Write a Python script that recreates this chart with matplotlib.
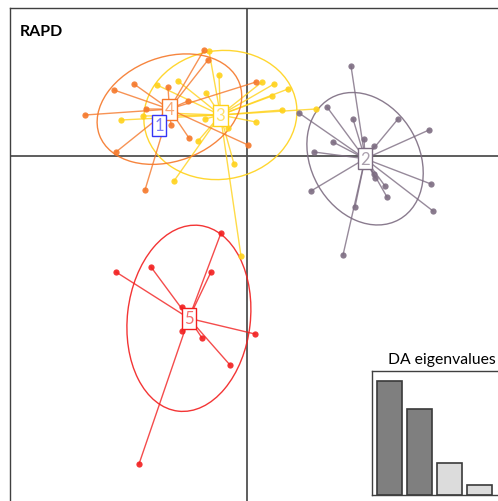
import numpy as np
import matplotlib
matplotlib.use("Agg")
import matplotlib.pyplot as plt
from matplotlib.patches import Ellipse

# discriminant function scores (LD1, LD2) per population
grp1_x = [-1.76]
grp1_y = [0.62]

grp2_x = [2.08, 1.60, 1.04, 2.12, 3.02, 3.64, 2.34, 1.72, 2.54, 1.34,
          2.56, 2.76, 2.80, 3.68, 3.72, 1.28, 2.16, 1.92, 2.54]
grp2_y = [1.80, 0.98, 0.86, 0.74, 0.74, 0.52, 0.34, 0.28, 0.20, 0.08,
          -0.44, -0.60, -0.82, -0.56, -1.10, -0.70, -1.02, -1.98, -0.36]

grp3_x = [-0.76, -0.56, -1.38, -1.80, -0.82, 0.30, 0.54, 0.82, 0.50, 0.70,
          0.18, -2.08, -2.52, -0.84, -0.98, -0.38, -0.26, -1.46, -0.12, 1.38, -1.64]
grp3_y = [2.10, 1.62, 1.50, 1.42, 1.26, 1.48, 1.44, 1.34, 1.20, 0.92,
          0.68, 0.80, 0.72, 0.74, 0.30, 0.56, -0.16, -0.50, -2.00, 0.94, 0.86]

grp4_x = [-0.86, -0.78, -2.66, -2.26, -1.58, -1.18, -2.02, -3.24, -1.52, -1.16,
          -2.62, -2.04, 0.02, 0.18]
grp4_y = [2.12, 1.92, 1.32, 1.44, 1.38, 1.10, 0.94, 0.82, 0.62, 0.36,
          0.08, -0.68, 0.22, 1.48]

grp5_x = [-0.52, -2.62, -1.92, -0.72, -1.30, -1.30, -0.90, 0.16, -0.34, -2.16]
grp5_y = [-1.54, -2.32, -2.22, -2.32, -3.02, -3.50, -3.64, -3.56, -4.18, -6.16]

groups = ["1", "2", "3", "4", "5"]
grp_colors = ["#3535F5", "#7D6D82", "#FFD21A", "#F5782A", "#F21F1F"]

eig_vals = [11.4, 8.6, 3.2, 1.0]
eig_colors = ["#7F7F7F", "#7F7F7F", "#DCDCDC", "#DCDCDC"]

plt.rcParams["font.family"] = ["Lato", "DejaVu Sans"]

fig = plt.figure(figsize=(4.98, 5.02), dpi=100)
ax = fig.add_axes([10 / 498, -10 / 502, 500 / 498, 503 / 502])
ax.set_xlim(-4.74, 5.26)
ax.set_ylim(-7.10, 2.96)
ax.set_xticks([])
ax.set_yticks([])
for sp in ax.spines.values():
    sp.set_color("#404040")
    sp.set_linewidth(1.0)

ax.axhline(0, color="#505050", lw=1.3, zorder=1)
ax.axvline(0, color="#505050", lw=1.3, zorder=1)

data = [(grp1_x, grp1_y), (grp2_x, grp2_y), (grp3_x, grp3_y),
        (grp4_x, grp4_y), (grp5_x, grp5_y)]

# draw groups so that group 1 ends on top
order = [1, 4, 2, 3, 0]
for i in order:
    xs, ys = np.array(data[i][0]), np.array(data[i][1])
    col = grp_colors[i]
    cx, cy = xs.mean(), ys.mean()
    # stars from centroid
    for x, y in zip(xs, ys):
        ax.plot([cx, x], [cy, y], color=col, lw=1.0, alpha=0.8, zorder=2)
    ax.plot(xs, ys, "o", color=col, ms=4.5, mec="none", alpha=0.9, zorder=3)
    # 1.5 sd inertia ellipse
    if len(xs) > 2:
        cov = np.cov(np.vstack([xs, ys]), bias=True)
        vals, vecs = np.linalg.eigh(cov)
        angle = np.degrees(np.arctan2(vecs[1, 1], vecs[0, 1]))
        w, h = 2 * 1.5 * np.sqrt(vals[1]), 2 * 1.5 * np.sqrt(vals[0])
        ax.add_patch(Ellipse((cx, cy), w, h, angle=angle, fill=False,
                             ec=col, lw=1.0, alpha=0.9, zorder=2))

for i in order:
    xs, ys = np.array(data[i][0]), np.array(data[i][1])
    col = grp_colors[i]
    ax.text(xs.mean(), ys.mean(), groups[i], fontsize=12, color=col, alpha=0.65,
            ha="center", va="center", zorder=5,
            bbox=dict(boxstyle="square,pad=0.15", fc="white", ec=col, lw=1.0))

ax.text(20 / 498, 1 - 32 / 502, "RAPD", transform=fig.transFigure,
        fontsize=11.5, fontweight="bold", ha="left", va="center")

# inset with discriminant eigenvalues
ins = fig.add_axes([372 / 498, 6 / 502, 128 / 498, 124 / 502])
pos = np.arange(len(eig_vals)) * 1.2 + 0.7
ins.bar(pos, eig_vals, width=1.0, color=eig_colors, edgecolor="#3A3A3A", lw=1.2)
ins.set_xlim(0, 5.1)
ins.set_ylim(0, max(eig_vals) * 1.088)
ins.set_xticks([])
ins.set_yticks([])
for sp in ins.spines.values():
    sp.set_color("#404040")
    sp.set_linewidth(1.0)
fig.text(442 / 498, 1 - 360 / 502, "DA eigenvalues", fontsize=11.3,
         ha="center", va="center")

fig.savefig("out.png", dpi=100)
